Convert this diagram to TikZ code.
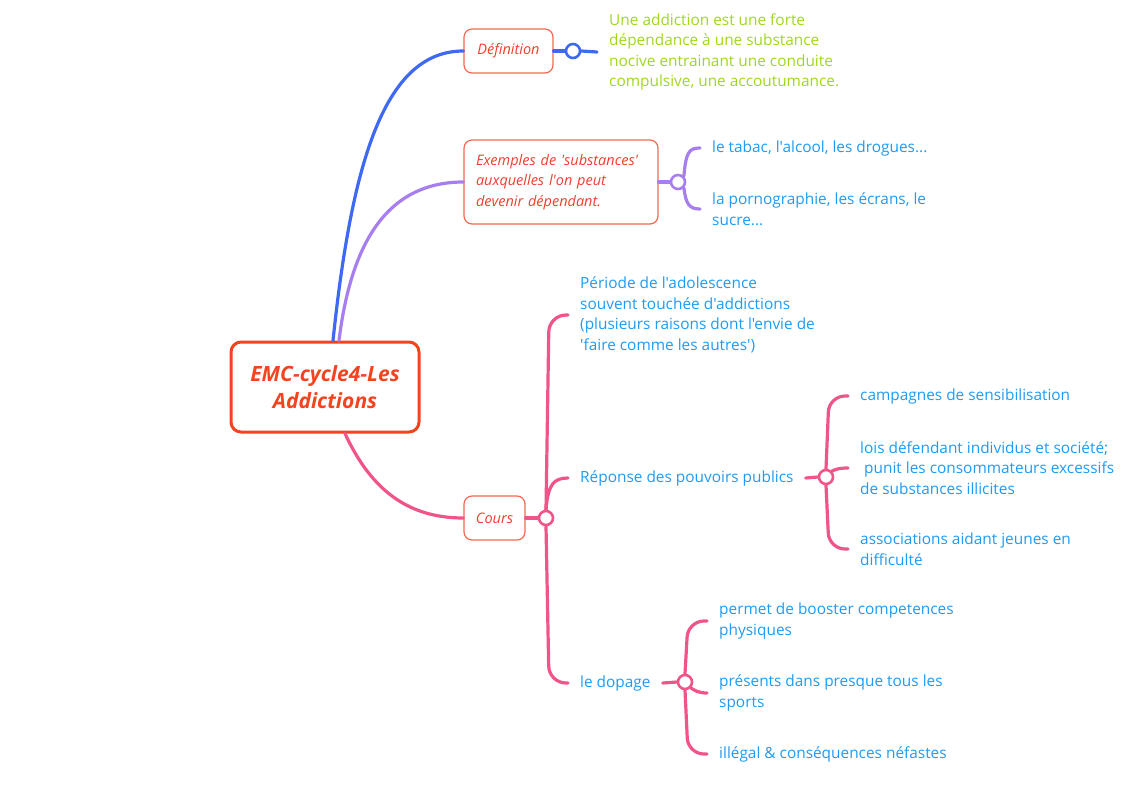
\documentclass[tikz,border=0pt]{standalone}
\usepackage{fontspec}
\setmainfont{Open Sans}[Ligatures=TeXOff]
\definecolor{rootred}{RGB}{244,67,31}
\definecolor{labred}{RGB}{240,62,45}
\definecolor{bord}{RGB}{242,105,80}
\definecolor{lblue}{RGB}{62,105,242}
\definecolor{lpurple}{RGB}{166,126,240}
\definecolor{lpink}{RGB}{240,84,136}
\definecolor{tgreen}{RGB}{160,215,30}
\definecolor{tblue}{RGB}{30,155,245}
\begin{document}
\begin{tikzpicture}[x=1pt,y=-1pt,
  rootbox/.style={draw=rootred,line width=3pt,rounded corners=10pt,minimum width=188pt,minimum height=90pt,align=center,text=rootred,font=\bfseries\itshape\fontsize{21}{27}\selectfont},
  topic/.style={draw=bord,line width=1.2pt,rounded corners=8pt,minimum height=44pt,text=labred,font=\itshape\fontsize{14.5}{20.5}\selectfont},
  knob/.style={circle,draw=#1,line width=2.6pt,fill=white,minimum size=14pt,inner sep=0pt},
  leaf/.style={anchor=west,inner xsep=12pt,inner ysep=0pt,align=left,text=tblue,font=\fontsize{15.4}{20.5}\selectfont},
  conn/.style={line width=3.2pt,draw=#1,line cap=round}]
\useasboundingbox (0,0) rectangle (1123,807);
% root and topics
\node[rootbox] (root) at (325,387) {EMC-cycle4-Les\\Addictions};
\node[topic,minimum width=89pt] (def) at (508.5,51) {Définition};
\node[topic,minimum width=194pt,minimum height=84pt,align=left,inner xsep=12pt,text width=170pt] (ex) at (561,182) {Exemples de 'substances'\\auxquelles l'on peut\\devenir dépendant.};
\node[topic,minimum width=61pt,inner xsep=4pt] (cours) at (494.5,518) {Cours};
% main connectors
\draw[conn=lblue] ([xshift=8pt]root.north) .. controls (352,160) and (385,51) .. (def.west);
\draw[conn=lpurple] ([xshift=14pt]root.north) .. controls (352,235) and (392,182) .. (ex.west);
\draw[conn=lpink] ([xshift=20pt]root.south) .. controls (372,492) and (410,518) .. (cours.west);
% knobs
\node[knob=lblue] (cdef) at (573,51) {};
\node[knob=lpurple] (cex) at (678,182) {};
\node[knob=lpink] (ccours) at (546,518) {};
% definition
\node[leaf,text=tgreen] (dtext) at (597,52) {Une addiction est une forte\\dépendance à une substance\\nocive entrainant une conduite\\compulsive, une accoutumance.};
\draw[conn=lblue] (def.east) -- (cdef.west);
\draw[conn=lblue] (cdef.east) -- (dtext.west);
% exemples
\node[leaf] (e1) at (700,148) {le tabac, l'alcool, les drogues...};
\node[leaf] (e2) at (700,209) {la pornographie, les écrans, le\\sucre...};
\draw[conn=lpurple] (ex.east) -- (cex.west);
\draw[conn=lpurple] (cex.north east) .. controls (686,152) and (689,148) .. (e1.west);
\draw[conn=lpurple] (cex.south east) .. controls (686,204) and (689,209) .. (e2.west);
% cours
\draw[conn=lpink] (cours.east) -- (ccours.west);
\node[leaf] (c1) at (568,315) {Période de l'adolescence\\souvent touchée d'addictions\\(plusieurs raisons dont l'envie de\\'faire comme les autres')};
\node[leaf] (c2) at (568,478) {Réponse des pouvoirs publics};
\node[leaf] (c3) at (568,683) {le dopage};
\draw[conn=lpink,rounded corners=17pt] (ccours.north) -- ([xshift=3pt]ccours.north |- c1.west) -- (c1.west);
\draw[conn=lpink] (ccours.north) .. controls (548,484) and (554,478) .. (c2.west);
\draw[conn=lpink,rounded corners=17pt] (ccours.south) -- ([xshift=3pt]ccours.south |- c3.west) -- (c3.west);
% reponse
\node[knob=lpink] (crep) at (826,477) {};
\draw[conn=lpink] (c2.east) -- (crep.west);
\node[leaf] (r1) at (848,396) {campagnes de sensibilisation};
\node[leaf] (r2) at (848,468) {lois défendant individus et société;\\\ punit les consommateurs excessifs\\de substances illicites};
\node[leaf] (r3) at (848,549) {associations aidant jeunes en\\difficulté};
\draw[conn=lpink,rounded corners=16pt] (crep.north) -- ([xshift=3pt]crep.north |- r1.west) -- (r1.west);
\draw[conn=lpink] (crep.north east) .. controls (836,469) and (840,468) .. (r2.west);
\draw[conn=lpink,rounded corners=16pt] (crep.south) -- ([xshift=3pt]crep.south |- r3.west) -- (r3.west);
% dopage
\node[knob=lpink] (cdop) at (685,682) {};
\draw[conn=lpink] (c3.east) -- (cdop.west);
\node[leaf] (d1) at (707,621) {permet de booster competences\\physiques};
\node[leaf] (d2) at (707,693) {présents dans presque tous les\\sports};
\node[leaf] (d3) at (707,754) {illégal \& conséquences néfastes};
\draw[conn=lpink,rounded corners=16pt] (cdop.north) -- ([xshift=3pt]cdop.north |- d1.west) -- (d1.west);
\draw[conn=lpink] (cdop.south east) .. controls (694,690) and (698,693) .. (d2.west);
\draw[conn=lpink,rounded corners=16pt] (cdop.south) -- ([xshift=3pt]cdop.south |- d3.west) -- (d3.west);
\end{tikzpicture}
\end{document}
